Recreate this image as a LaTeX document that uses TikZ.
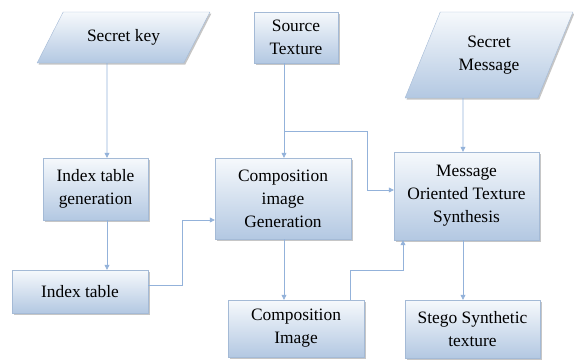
\documentclass[tikz,border=0pt]{standalone}
\usepackage{fontspec}
\setmainfont{Liberation Serif}
\usetikzlibrary{arrows.meta, shapes.geometric, shadows}
\definecolor{boxtop}{HTML}{F6F9FC}
\definecolor{boxbot}{HTML}{B3C8E2}
\definecolor{boxedge}{HTML}{A4BAD6}
\definecolor{flowline}{HTML}{93B2DA}

\begin{document}
\begin{tikzpicture}[
  x=1pt, y=-1pt,
  stage/.style={rectangle, draw=boxedge, top color=boxtop, bottom color=boxbot,
                drop shadow={shadow xshift=1.5pt, shadow yshift=-1.5pt, fill=black!50, opacity=0.45},
                align=center, inner sep=2pt, font=\fontsize{17.4}{23}\selectfont},
  inputbox/.style={stage, trapezium, trapezium stretches=true},
  flow/.style={draw=flowline, semithick, -{Triangle[length=5pt, width=5pt]}},
]
\useasboundingbox (0,0) rectangle (574,360);
% ---- inputs along the top row
\node[inputbox, trapezium left angle=50, trapezium right angle=130,
      minimum width=173, minimum height=51] (seckey) at (123.5,37.5) {Secret key};
\node[stage, minimum width=84, minimum height=51] (srctex) at (296,37.5) {Source\\Texture};
\node[inputbox, trapezium left angle=61, trapezium right angle=119,
      minimum width=168, minimum height=86] (secmsg) at (489,55) {Secret\\Message};
% ---- processing stages
\node[stage, minimum width=105, minimum height=62] (idxgen) at (95.5,189) {Index table\\generation};
\node[stage, minimum width=136, minimum height=81] (compgen) at (283,198.5) {Composition\\image\\Generation};
\node[stage, minimum width=145, minimum height=88] (msgsyn) at (466.5,196) {Message\\Oriented Texture\\Synthesis};
% ---- intermediate and final products
\node[stage, minimum width=136, minimum height=43] (idxtab) at (80,291.5) {Index table};
\node[stage, minimum width=136, minimum height=57] (compimg) at (296,328.5) {Composition\\Image};
\node[stage, minimum width=135, minimum height=58] (stego) at (472.5,329) {Stego Synthetic\\texture};
% ---- key path
\draw[flow] ([xshift=-16.5pt]seckey.south) -- ([xshift=11.5pt]idxgen.north);
\draw[flow] ([xshift=11.5pt]idxgen.south) -- ([xshift=27pt]idxtab.north);
\draw[flow] ([yshift=6.5pt]idxtab.east) -- ++(34,0) |- ([yshift=-21.5pt]compgen.west);
% ---- source texture feeds both generators
\coordinate (tap) at ([xshift=-12pt, yshift=-68pt]srctex.south);
\draw[flow] ([xshift=-12pt]srctex.south) -- ([xshift=1pt]compgen.north);
\draw[flow] (tap) -| ([xshift=-27pt, yshift=6pt]msgsyn.west) -- ([yshift=6pt]msgsyn.west);
\draw[flow] ([xshift=1pt]compgen.south) -- ([xshift=-12pt]compimg.north);
\draw[flow] ([xshift=54pt]compimg.north) -- ++(0,-30) -| ([xshift=-63.5pt]msgsyn.south);
% ---- message path
\draw[flow] ([xshift=-26pt]secmsg.south) -- ([xshift=-3.5pt]msgsyn.north);
\draw[flow] ([xshift=-3.5pt]msgsyn.south) -- ([xshift=-9.5pt]stego.north);
\end{tikzpicture}
\end{document}
